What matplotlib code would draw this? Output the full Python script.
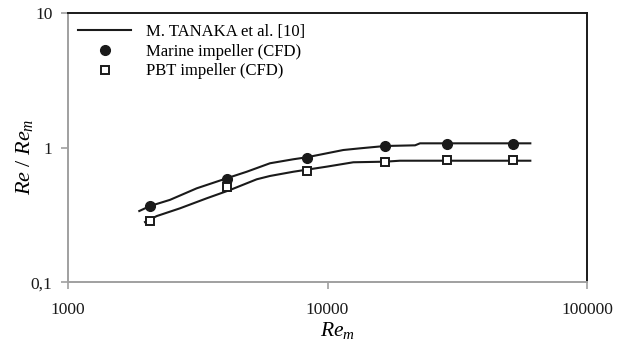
import matplotlib.pyplot as plt
from matplotlib.ticker import FixedLocator, NullLocator

plt.rcParams['font.family'] = ['Liberation Serif', 'DejaVu Serif']
plt.rcParams['mathtext.fontset'] = 'custom'
plt.rcParams['mathtext.rm'] = 'Liberation Serif'
plt.rcParams['mathtext.it'] = 'Liberation Serif:italic'

# correlation curves (M. Tanaka et al.)
tanaka_upper_x = [1886, 2074, 2476, 3137, 4093, 4887, 6007, 7386, 8318, 11500,
                  13340, 16650, 21730, 22700, 60350]
tanaka_upper_y = [0.338, 0.368, 0.409, 0.498, 0.591, 0.661, 0.764, 0.818, 0.846,
                  0.958, 0.986, 1.026, 1.038, 1.074, 1.074]
tanaka_lower_x = [1984, 2201, 2706, 3428, 4215, 5340, 6007, 7386, 9930, 12570,
                  16650, 19010, 60350]
tanaka_lower_y = [0.280, 0.310, 0.354, 0.420, 0.484, 0.581, 0.615, 0.661, 0.721,
                  0.777, 0.785, 0.798, 0.798]

# CFD results
re_m = [2074, 4104, 8318, 16650, 28760, 51620]
marine = [0.368, 0.583, 0.832, 1.03, 1.056, 1.056]
pbt = [0.286, 0.507, 0.670, 0.776, 0.804, 0.804]

fig = plt.figure(figsize=(6.28, 3.45), dpi=100)
ax = fig.add_axes([0.1078, 0.1817, 0.8274, 0.7815])

ax.plot(tanaka_upper_x, tanaka_upper_y, color='#1a1a1a', lw=1.5,
        label='M. TANAKA et al. [10]', zorder=2)
ax.plot(tanaka_lower_x, tanaka_lower_y, color='#1a1a1a', lw=1.5, zorder=2)
ax.plot(re_m, marine, 'o', color='#1a1a1a', ms=7, ls='none',
        label='Marine impeller (CFD)', zorder=3)
ax.plot(re_m, pbt, 's', mfc='white', mec='#1a1a1a', mew=1.4, ms=6.3, ls='none',
        label='PBT impeller (CFD)', zorder=3)

ax.set_xscale('log')
ax.set_yscale('log')
ax.set_xlim(1000, 100000)
ax.set_ylim(0.1, 10)

ax.xaxis.set_major_locator(FixedLocator([1000, 10000, 100000]))
ax.xaxis.set_minor_locator(NullLocator())
ax.yaxis.set_major_locator(FixedLocator([0.1, 1, 10]))
ax.yaxis.set_minor_locator(NullLocator())
ax.set_xticklabels(['1000', '10000', '100000'])
ax.set_yticklabels(['0,1', '1', '10'])

for s in ['left', 'bottom']:
    ax.spines[s].set_color('#a0a0a0')
    ax.spines[s].set_linewidth(1.4)
for s in ['top', 'right']:
    ax.spines[s].set_color('#1a1a1a')
    ax.spines[s].set_linewidth(1.4)
ax.tick_params(axis='both', which='major', direction='out', length=5,
               width=1.2, color='#a0a0a0', labelsize=12.5,
               labelcolor='#1a1a1a')
ax.tick_params(axis='x', pad=9)
ax.tick_params(axis='y', pad=6)

ax.set_xlabel(r'$Re_m$', fontsize=15.5)
ax.xaxis.set_label_coords(0.52, -0.14)
ax.set_ylabel(r'$Re\ /\ Re_m$', fontsize=16)
ax.yaxis.set_label_coords(-0.062, 0.465)

ax.legend(loc='upper left', bbox_to_anchor=(0.004, 0.99), frameon=False,
          fontsize=12, handlelength=3.2, handletextpad=0.9, borderaxespad=0.2,
          labelspacing=0.23, borderpad=0.3)

fig.savefig('out.png', dpi=100)
